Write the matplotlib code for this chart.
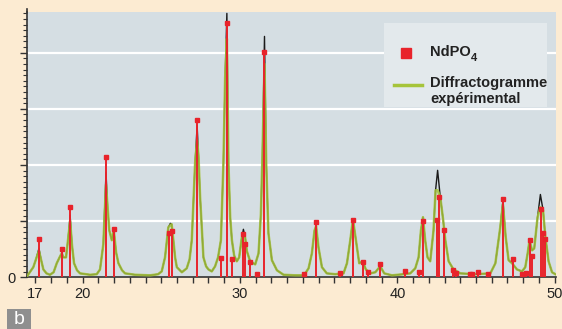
#!/usr/bin/env python3
from __future__ import annotations

import matplotlib

matplotlib.use("Agg")

import matplotlib.pyplot as plt
from matplotlib.lines import Line2D
from matplotlib.patches import Rectangle

W_PX, H_PX = 562, 329

ANGLES = [
    16.47, 16.87, 17.04, 17.23, 17.36, 17.51, 17.71, 17.93, 18.16, 18.36,
    18.54, 18.68, 18.79, 18.95, 19.08, 19.21, 19.33, 19.46, 19.65, 19.84,
    20.48, 20.90, 21.11, 21.32, 21.49, 21.59, 21.70, 21.86, 21.98, 22.13,
    22.28, 22.51, 22.70, 23.34, 24.29, 24.80, 25.03, 25.24, 25.45, 25.58,
    25.66, 25.77, 25.88, 25.99, 26.31, 26.62, 26.80, 26.94, 27.15, 27.28,
    27.37, 27.47, 27.68, 27.85, 28.00, 28.21, 28.42, 28.61, 28.79, 28.95,
    29.06, 29.17, 29.27, 29.38, 29.49, 29.63, 29.80, 29.95, 30.12, 30.22,
    30.33, 30.44, 30.65, 30.97, 31.18, 31.33, 31.43, 31.56, 31.67, 31.81,
    32.03, 32.35, 32.77, 33.51, 34.04, 34.15, 34.36, 34.57, 34.74, 34.84,
    34.99, 35.21, 35.52, 36.05, 36.58, 36.80, 37.01, 37.18, 37.37, 37.58,
    37.79, 38.00, 38.28, 38.60, 38.91, 39.17, 39.66, 40.39, 40.82, 41.14,
    41.35, 41.50, 41.63, 41.77, 41.92, 42.09, 42.30, 42.43, 42.56, 42.73,
    42.90, 43.05, 43.26, 43.57, 44.00, 44.95, 45.91, 46.23, 46.43, 46.54,
    46.71, 46.88, 47.07, 47.29, 47.60, 47.92, 48.13, 48.28, 48.40, 48.56,
    48.70, 48.91, 49.09, 49.26, 49.40, 49.61, 49.83, 50.04,
]
COUNTS = [
    18, 180, 320, 515, 320, 140, 70, 45, 90, 250,
    355, 430, 355, 355, 675, 1105, 570, 250, 125, 70,
    45, 55, 140, 590, 1870, 1245, 835, 660, 855, 445,
    250, 125, 70, 45, 35, 55, 105, 355, 890, 960,
    945, 660, 355, 180, 90, 160, 320, 660, 2030, 2705,
    2135, 1425, 355, 195, 140, 105, 195, 355, 660, 2030,
    3560, 4700, 2030, 1070, 660, 390, 285, 355, 710, 855,
    710, 465, 285, 230, 425, 1120, 2170, 4290, 2030, 785,
    305, 125, 45, 35, 35, 70, 160, 425, 835, 910,
    535, 180, 70, 55, 70, 250, 660, 1030, 660, 250,
    285, 140, 70, 90, 195, 70, 35, 55, 70, 160,
    355, 835, 1070, 660, 355, 285, 835, 1550, 1905, 1425,
    1050, 660, 285, 140, 70, 55, 70, 250, 660, 890,
    1370, 730, 305, 250, 140, 105, 180, 425, 660, 480,
    515, 1070, 1475, 1195, 730, 285, 90, 55,
]

# the green (experimental) trace sits a little lower at the peak tops
GREEN_TOPS = {
    17.23: 470, 19.21: 1000, 21.49: 1650, 25.58: 930, 27.28: 2450,
    29.17: 4250, 30.22: 770, 31.56: 3800, 42.56: 1550, 46.71: 1300,
    49.09: 1250,
}

# NdPO4 reference lines
REF_POS = [
    17.25, 18.70, 19.22, 21.51, 21.98, 25.50, 25.71, 27.30, 28.79, 29.17,
    29.50, 30.20, 30.30, 30.63, 31.09, 31.56, 34.04, 34.84, 36.37, 37.20,
    37.82, 38.12, 38.93, 40.49, 41.40, 41.65, 42.54, 42.66, 42.98, 43.53,
    43.74, 44.60, 44.74, 45.13, 45.73, 46.70, 47.35, 47.90, 48.19, 48.40,
    48.56, 49.10, 49.24, 49.36,
]
REF_INT = [
    680, 500, 1250, 2150, 855, 785, 820, 2800, 340, 4520,
    320, 765, 600, 270, 60, 4020, 55, 980, 70, 1015,
    265, 90, 240, 115, 100, 1000, 1015, 1425, 835, 125,
    80, 55, 55, 100, 55, 1390, 320, 55, 80, 660,
    375, 1210, 785, 675,
]

XTICKS = [17, 20, 30, 40, 50]

BG = "#fcebd2"
PANEL = "#d5dee3"
BOX = "#e3e9ec"
RED = "#e8232b"
GREEN = "#a6c43a"


def fx(x: float) -> float:
    return x / W_PX


def fy(y: float) -> float:
    return 1 - y / H_PX


def draw() -> None:
    fig = plt.figure(figsize=(W_PX / 100, H_PX / 100), dpi=100, facecolor=BG)
    plt.rcParams["font.family"] = ["Liberation Sans", "DejaVu Sans"]

    ax = fig.add_axes([fx(27), fy(277.3), fx(555.5) - fx(27), (277.3 - 11.7) / H_PX])
    ax.set_facecolor(PANEL)
    ax.set_xlim(16.47, 50.05)
    ax.set_ylim(0, 4730)

    for y in range(1000, 5000, 1000):
        ax.axhline(y, color="white", lw=1.6, zorder=1)

    green = [GREEN_TOPS.get(a, c) for a, c in zip(ANGLES, COUNTS)]
    ax.plot(ANGLES, COUNTS, color="#1a1a1a", lw=1.0, zorder=2)
    ax.plot(ANGLES, green, color=GREEN, lw=1.8, alpha=0.85, zorder=3)

    ax.vlines(REF_POS, 0, REF_INT, color=RED, lw=1.4, zorder=4)
    ax.plot(REF_POS, REF_INT, ls="none", marker="s", ms=3.3, color=RED, zorder=5)

    for side in ("top", "right"):
        ax.spines[side].set_visible(False)
    for side in ("left", "bottom"):
        ax.spines[side].set_color("#333333")
        ax.spines[side].set_linewidth(1.2)
    # axis line pokes a little above the panel
    fig.add_artist(Line2D([fx(27), fx(27)], [fy(12), fy(9)], color="#333333", lw=1.2,
                          transform=fig.transFigure))

    ax.set_xticks(XTICKS)
    ax.set_xticks(range(17, 51), minor=True)
    ax.set_xticklabels([str(t) for t in XTICKS], fontsize=10.5, color="#222222")
    ax.tick_params(axis="x", which="both", direction="out", length=4, width=1, color="#333333", pad=3)

    ax.set_yticks([0, 1000, 2000, 3000, 4000])
    ax.set_yticks(range(0, 4800, 100), minor=True)
    ax.set_yticklabels(["0", "", "", "", ""], fontsize=10.5, color="#222222")
    ax.tick_params(axis="y", which="major", direction="out", length=5, width=1, color="#333333", pad=3)
    ax.tick_params(axis="y", which="minor", direction="out", length=3, width=0.8, color="#333333")

    # legend panel
    fig.add_artist(Rectangle((fx(384), fy(107)), fx(547) - fx(384), fy(23) - fy(107),
                             transform=fig.transFigure, facecolor=BOX, edgecolor="none", zorder=6))
    fig.add_artist(Line2D([fx(406)], [fy(52.5)], marker="s", ms=7, color=RED,
                          ls="none", transform=fig.transFigure, zorder=7))
    fig.add_artist(Line2D([fx(394), fx(422)], [fy(85), fy(85)], color=GREEN, lw=2.5,
                          transform=fig.transFigure, zorder=7))
    fig.text(fx(430), fy(52.5), "NdPO", fontsize=10.5, fontweight="bold",
             color="#222222", va="center", zorder=8)
    fig.text(fx(471), fy(58), "4", fontsize=8, fontweight="bold",
             color="#222222", va="center", zorder=8)
    fig.text(fx(430), fy(91), "Diffractogramme\nexpérimental", fontsize=10.5, fontweight="bold",
             color="#222222", va="center", linespacing=1.1, zorder=8)

    # panel letter
    fig.add_artist(Rectangle((fx(7), 0), fx(31) - fx(7), fy(308.5),
                             transform=fig.transFigure, facecolor="#8f8f8f", edgecolor="none"))
    fig.text(fx(19), fy(319), "b", fontsize=14, color="white", ha="center", va="center")

    fig.savefig("out.png", dpi=100, facecolor=BG)
    plt.close(fig)


def main() -> None:
    draw()


if __name__ == "__main__":
    main()
